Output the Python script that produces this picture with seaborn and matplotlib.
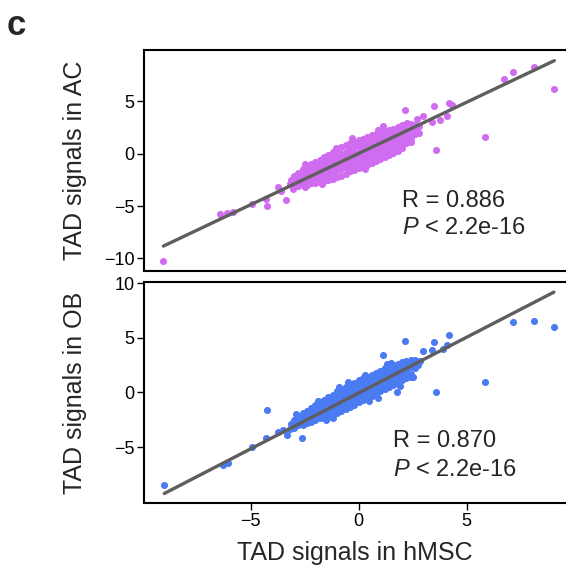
import matplotlib
matplotlib.use("Agg")
import matplotlib.pyplot as plt
import seaborn as sns
import pandas as pd

# ---------------- data ----------------
# dense central band: hMSC column positions and signal values in each column
band_cols = [-3.0, -2.8, -2.6, -2.4, -2.2, -2.0, -1.8, -1.6, -1.4, -1.2,
             -1.0, -0.8, -0.6, -0.4, -0.2, 0.0, 0.2, 0.4, 0.6, 0.8,
             1.0, 1.2, 1.4, 1.6, 1.8, 2.0, 2.2, 2.4, 2.6]

ac_band = [
    [-2.1, -2.6, -3.1],
    [-1.8, -2.3, -2.7, -3.1],
    [-1.5, -2.0, -2.5, -3.0],
    [-1.3, -1.8, -2.2, -2.6, -3.0],
    [-1.0, -1.5, -1.9, -2.3, -2.8],
    [-0.8, -1.3, -1.7, -2.1, -2.5, -2.8],
    [-0.6, -1.1, -1.5, -1.9, -2.3, -2.7],
    [-0.3, -0.8, -1.3, -1.7, -2.1, -2.6],
    [-0.1, -0.6, -1.1, -1.5, -1.9, -2.5],
    [0.2, -0.4, -0.9, -1.3, -1.8, -2.4],
    [0.4, -0.2, -0.7, -1.1, -1.6, -2.2],
    [0.6, 0.0, -0.5, -1.0, -1.5, -2.1],
    [0.8, 0.2, -0.3, -0.8, -1.3, -1.9],
    [1.0, 0.4, -0.1, -0.6, -1.1, -1.7],
    [1.1, 0.6, 0.1, -0.5, -1.0, -1.6],
    [1.3, 0.7, 0.2, -0.3, -0.8, -1.4],
    [1.4, 0.9, 0.4, -0.2, -0.7, -1.2],
    [1.6, 1.0, 0.5, 0.0, -0.5, -1.1],
    [1.8, 1.2, 0.7, 0.2, -0.3, -0.9],
    [1.9, 1.4, 0.9, 0.4, -0.1, -0.7],
    [2.1, 1.5, 1.0, 0.5, 0.0, -0.5],
    [2.2, 1.7, 1.2, 0.7, 0.2, -0.3],
    [2.3, 1.8, 1.3, 0.9, 0.4, -0.1],
    [2.4, 2.0, 1.5, 1.0, 0.5, 0.1],
    [2.5, 2.1, 1.6, 1.2, 0.7, 0.3],
    [2.7, 2.2, 1.8, 1.4, 0.9, 0.5],
    [2.8, 2.3, 1.9, 1.5, 1.0],
    [2.8, 2.4, 2.0, 1.5, 1.1],
    [2.7, 2.3, 1.9],
]

ob_band = [
    [-2.5, -2.9, -3.2],
    [-2.2, -2.6, -3.0],
    [-1.9, -2.3, -2.7, -3.0],
    [-1.7, -2.1, -2.5, -2.8],
    [-1.4, -1.8, -2.2, -2.7],
    [-1.1, -1.6, -2.0, -2.5],
    [-0.9, -1.4, -1.8, -2.3],
    [-0.7, -1.1, -1.5, -1.9, -2.3],
    [-0.4, -0.9, -1.3, -1.7, -2.2],
    [-0.2, -0.7, -1.1, -1.5, -2.0],
    [0.1, -0.4, -0.9, -1.3, -1.9],
    [0.3, -0.2, -0.7, -1.1, -1.7],
    [0.5, 0.0, -0.5, -1.0, -1.5],
    [0.7, 0.2, -0.3, -0.8, -1.3],
    [0.9, 0.4, -0.1, -0.6, -1.1],
    [1.1, 0.6, 0.1, -0.4, -0.9],
    [1.3, 0.8, 0.3, -0.2, -0.7],
    [1.4, 1.0, 0.5, 0.0, -0.5],
    [1.6, 1.2, 0.7, 0.2, -0.3],
    [1.8, 1.3, 0.8, 0.4, -0.1],
    [2.0, 1.5, 1.0, 0.6, 0.1],
    [2.2, 1.7, 1.2, 0.7, 0.3],
    [2.3, 1.8, 1.4, 0.9, 0.5],
    [2.5, 2.0, 1.6, 1.1, 0.7],
    [2.6, 2.2, 1.7, 1.3, 0.9],
    [2.8, 2.3, 1.9, 1.5, 1.1],
    [2.9, 2.5, 2.1, 1.7, 1.3],
    [3.0, 2.6, 2.3, 1.7],
    [3.0, 2.6, 2.2],
]

# scattered points outside the band
hmsc_ac_out = [-9.04, -6.42, -6.1, -5.8, -4.95, -4.26, -4.28, -3.37, -3.72, -3.03,
               -3.6, -3.2, -2.48, -1.05, 0.06, 1.14, 1.76, 2.45, -1.33, -2.48,
               -3.15, -3.2, 2.75, 2.8, -0.3, 0.9, -1.7, 0.3,
               2.14, 2.99, 3.38, 3.49, 3.59, 4.2, 4.33, 4.1, 3.76, 2.7,
               2.8, 2.22, 5.86, 6.74, 7.13, 8.13, 9.06]
ac_out = [-10.28, -5.74, -5.7, -5.6, -4.78, -5.04, -4.31, -4.4, -3.19, -3.35,
          -3.6, -2.9, -0.96, 0.57, 1.27, 2.61, 0.32, 1.75, -2.39, -3.19,
          -2.5, -2.9, 2.5, 2.0, 1.5, 2.3, -2.9, -1.5,
          4.14, 3.57, 3.03, 4.56, 0.38, 4.88, 4.6, 3.6, 3.19, 3.3,
          2.6, 2.93, 1.59, 7.11, 7.75, 8.29, 6.22]

hmsc_ob_out = [-9.0, -6.3, -6.04, -4.95, -4.29, -3.72, -3.33, -2.64, -4.23, -3.5,
               -3.1, -2.9, -1.9, -0.9, 0.3, 1.3, 2.4, -1.5, 0.5, 1.9,
               -3.15, -3.2, 2.75, 2.85, -0.5, 0.9, 1.5, -1.2,
               1.14, 1.76, 2.14, 2.52, 3.0, 3.49, 3.4, 4.1, 4.2, 3.9,
               3.59, 5.86, 7.13, 8.13, 9.04]
ob_out = [-8.48, -6.61, -6.45, -5.0, -4.17, -3.57, -3.87, -4.17, -1.61, -3.4,
          -3.0, -2.0, -0.8, 0.5, 1.6, 2.6, 1.4, -2.5, -0.8, 0.6,
          -2.9, -3.3, 2.5, 2.9, 1.0, -0.5, 2.7, -2.3,
          3.45, 0.09, 4.67, 1.46, 3.77, 4.58, 3.9, 4.3, 5.28, 4.0,
          0.04, 0.95, 6.4, 6.56, 5.95]

# linear fits shown in the reference (slope, intercept)
ac_fit = (0.978, 0.02)
ob_fit = (1.02, -0.05)

x_label = "TAD signals in hMSC"
y_labels = ["TAD signals in AC", "TAD signals in OB"]
stats = [("R = 0.886", "$P$ < 2.2e-16"), ("R = 0.870", "$P$ < 2.2e-16")]
yticks_top = [-10, -5, 0, 5]
yticks_bottom = [-5, 0, 5, 10]
xticks = [-5, 0, 5]

# ---------------- style ----------------
sns.set_style("ticks")
plt.rcParams["font.family"] = ["Liberation Sans", "DejaVu Sans"]
plt.rcParams["mathtext.fontset"] = "custom"
plt.rcParams["mathtext.it"] = "Liberation Sans:italic"
plt.rcParams["mathtext.rm"] = "Liberation Sans"

c_ac = "#D06CF0"
c_ob = "#4B7BF2"
c_line = "#5E5E5E"


def build(band, xo, yo):
    xs, ys = [], []
    for cx, vals in zip(band_cols, band):
        for v in vals:
            xs.append(cx)
            ys.append(v)
    xs += xo
    ys += yo
    return pd.DataFrame({"hmsc": xs, "sig": ys})


df_ac = build(ac_band, hmsc_ac_out, ac_out)
df_ob = build(ob_band, hmsc_ob_out, ob_out)

fig = plt.figure(figsize=(5.66, 5.66), dpi=100)
ax1 = fig.add_axes([0.2544, 0.5212, 0.7456, 0.3905])
ax2 = fig.add_axes([0.2544, 0.1113, 0.7456, 0.3905])

for ax, df, col, ylab, st, yt, ylim, fit, tx in [
    (ax1, df_ac, c_ac, y_labels[0], stats[0], yticks_top, (-11.2, 9.9), ac_fit, 2.0),
    (ax2, df_ob, c_ob, y_labels[1], stats[1], yticks_bottom, (-10.1, 10.1), ob_fit, 1.6),
]:
    sns.scatterplot(data=df, x="hmsc", y="sig", ax=ax, s=26, color=col,
                    linewidth=0, alpha=1, zorder=2)
    lx = [df["hmsc"].min(), df["hmsc"].max()]
    ly = [fit[0] * v + fit[1] for v in lx]
    sns.lineplot(x=lx, y=ly, ax=ax, color=c_line, lw=2.4, zorder=3)
    ax.set_xlim(-9.94, 9.6)
    ax.set_ylim(*ylim)
    ax.set_yticks(yt)
    ax.set_xticks(xticks)
    ax.spines["right"].set_visible(False)
    for s in ["left", "top", "bottom"]:
        ax.spines[s].set_linewidth(1.5)
        ax.spines[s].set_color("black")
    ax.tick_params(axis="both", labelsize=13, length=5, width=1, pad=2, colors="black")
    ax.set_ylabel(ylab, fontsize=18)
    ax.yaxis.set_label_coords(-0.135, 0.5)
    ax.text(tx, -4.47, st[0], fontsize=17, va="center")
    ax.text(tx, -7.1, st[1], fontsize=17, va="center")

ax1.set_xlabel("")
ax1.tick_params(axis="x", bottom=False, labelbottom=False)
ax2.set_xlabel(x_label, fontsize=18, labelpad=8)

fig.text(0.012, 0.955, "c", fontsize=25, fontweight="bold", va="center", ha="left")

fig.savefig("out.png", dpi=100)
